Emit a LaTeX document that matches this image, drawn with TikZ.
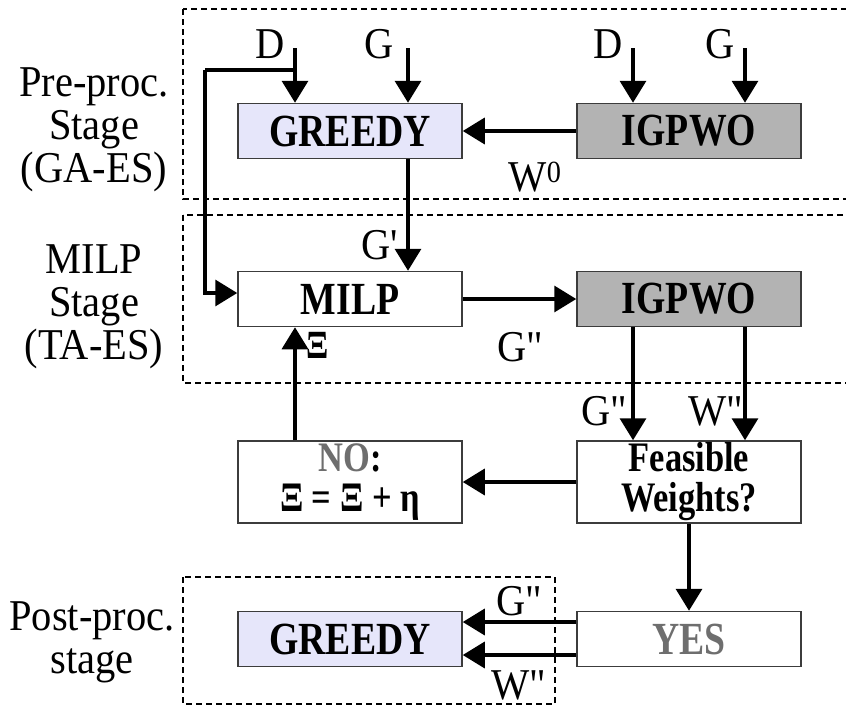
\documentclass[tikz,border=0pt]{standalone}
\usepackage{fontspec}
\setmainfont{Liberation Serif}[Ligatures=TeXOff, FakeStretch=0.92]
\newfontfamily\blockfont{Liberation Serif}[Ligatures=TeXOff, FakeStretch=0.82]
\usetikzlibrary{arrows.meta}
\definecolor{lavender}{RGB}{230,230,250}
\definecolor{igray}{RGB}{179,179,179}
\definecolor{txtgray}{RGB}{110,110,110}
\definecolor{edge}{RGB}{60,60,60}

\begin{document}
\begin{tikzpicture}[x=1pt,y=-1pt,
  box/.style={draw=edge, line width=1.5pt, minimum width=224pt, minimum height=55pt,
    inner sep=0pt, align=center, font=\blockfont\fontsize{46}{40}\selectfont\bfseries},
  tallbox/.style={box, minimum height=82pt, font=\blockfont\fontsize{42}{40}\selectfont\bfseries},
  flow/.style={line width=3.5pt, -{Triangle[length=22pt,width=26pt]}},
  wire/.style={line width=3.5pt},
  lbl/.style={inner sep=0pt, font=\fontsize{44}{43}\selectfont, align=center},
  stagebox/.style={line width=2pt, dash pattern=on 6pt off 4pt}
]
\useasboundingbox (0,0) rectangle (846,707);
\clip (0,0) rectangle (846,707);

% stage frames
\draw[stagebox] (183,9) rectangle (880,199);
\draw[stagebox] (183,215) rectangle (880,383);
\draw[stagebox] (183,577) rectangle (555,704);

% stage captions
\node[lbl] (cap1) at (94,130) {Pre-proc.\\Stage\\(GA-ES)};
\node[lbl] (cap2) at (94,307) {MILP\\Stage\\(TA-ES)};
\node[lbl] (cap3) at (92,642) {Post-proc.\\stage};

% blocks
\node[box, fill=lavender] (g1) at (350,131) {GREEDY};
\node[box, fill=igray] (i1) at (689,131) {IGPWO};
\node[box, fill=white] (milp) at (350,299) {MILP};
\node[box, fill=igray] (i2) at (689,299) {IGPWO};
\node[tallbox] (no) at (350,482) {\textcolor{txtgray}{NO}:\\Ξ = Ξ + η};
\node[tallbox] (fw) at (689,482) {Feasible\\Weights?};
\node[box, fill=lavender] (g2) at (350,639) {GREEDY};
\node[box] (yes) at (689,639) {\textcolor{txtgray}{YES}};

% column positions of vertical connectors
\coordinate (xa) at (295,48);
\coordinate (xb) at (408,48);
\coordinate (xc) at (633,48);
\coordinate (xd) at (745,48);
\coordinate (fb) at (295,70);
\coordinate (fbc) at (205,70);

% inputs
\node[lbl] (d1) at (270,44) {D};
\node[lbl] (gg1) at (379,44) {G};
\node[lbl] (d2) at (608,44) {D};
\node[lbl] (gg2) at (720,44) {G};
\draw[flow] (xa) -- (xa |- g1.north);
\draw[flow] (xb) -- (xb |- g1.north);
\draw[flow] (xc) -- (xc |- i1.north);
\draw[flow] (xd) -- (xd |- i1.north);

% pre-processing
\draw[flow] (i1.west) -- (g1.east);
\node[lbl] (w0) at (535,177) {W\textsuperscript{0}};
\draw[wire] (fb) -- (fbc);
\draw[flow] (fbc) |- ([yshift=6pt]milp.west);
\draw[flow] (xb |- g1.south) -- (xb |- milp.north);
\node[lbl] (gp) at (380,245) {G'};

% MILP stage
\draw[flow] (milp.east) -- (i2.west);
\node[lbl] (gpp1) at (520,347) {G"};
\draw[flow] (xc |- i2.south) -- (xc |- fw.north);
\draw[flow] (xd |- i2.south) -- (xd |- fw.north);
\node[lbl] (gpp2) at (604,411) {G"};
\node[lbl] (wpp1) at (716,411) {W"};

% feasibility check
\draw[flow] (fw.west) -- (no.east);
\draw[flow] (xa |- no.north) -- (xa |- milp.south);
\node[lbl, font=\blockfont\fontsize{40}{43}\selectfont\bfseries] (xi) at (318,345) {Ξ};
\draw[flow] (fw.south) -- (yes.north);

% post-processing
\draw[flow] ([yshift=17pt]yes.west) -- ([yshift=17pt]g2.east);
\draw[flow] ([yshift=-16pt]yes.west) -- ([yshift=-16pt]g2.east);
\node[lbl] (gpp3) at (519,601) {G"};
\node[lbl] (wpp2) at (519,685) {W"};
\end{tikzpicture}
\end{document}
